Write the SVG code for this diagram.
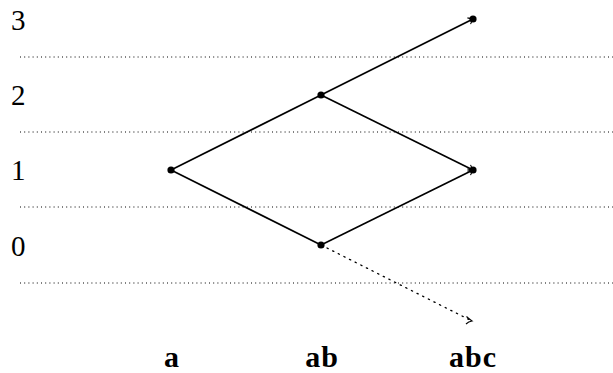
<svg xmlns="http://www.w3.org/2000/svg" width="613" height="373" viewBox="0 0 613 373">
<style>
.grid{stroke:#000;stroke-width:1;stroke-dasharray:1 3.2;fill:none}
.edge{stroke:#000;stroke-width:1.6;fill:none}
.dot{stroke:#000;stroke-width:1.3;stroke-dasharray:1.3 5;stroke-linecap:round;fill:none}
.num{font-family:"Liberation Serif",serif;font-size:29px;fill:#000}
.lbl{font-family:"Liberation Serif",serif;font-size:30px;font-weight:bold;fill:#000;text-anchor:middle;letter-spacing:1px}
.pt{fill:#000}
</style>
<defs>
<marker id="arr" viewBox="-6 -5 8 10" refX="0" refY="0" markerWidth="8" markerHeight="10" markerUnits="userSpaceOnUse" orient="auto">
<path d="M-4.5,-3.5 Q-1.5,-1 0,0 Q-1.5,1 -4.5,3.5" fill="none" stroke="#000" stroke-width="1.1"/>
</marker>
</defs>
<g id="grid">
<line class="grid" x1="20" y1="57" x2="613" y2="57"/>
<line class="grid" x1="20" y1="132" x2="613" y2="132"/>
<line class="grid" x1="20" y1="207" x2="613" y2="207"/>
<line class="grid" x1="20" y1="283" x2="613" y2="283"/>
</g>
<g id="levels">
<text class="num" x="11" y="30">3</text>
<text class="num" x="11" y="105">2</text>
<text class="num" x="11" y="180">1</text>
<text class="num" x="11" y="256">0</text>
</g>
<g id="connectors">
<line class="edge" x1="171" y1="170" x2="321" y2="95"/>
<line class="edge" x1="171" y1="170" x2="321" y2="245"/>
<line class="edge" x1="321" y1="95" x2="473" y2="19" marker-end="url(#arr)"/>
<line class="edge" x1="321" y1="95" x2="473" y2="170" marker-end="url(#arr)"/>
<line class="edge" x1="321" y1="245" x2="473" y2="170" marker-end="url(#arr)"/>
<line class="dot" x1="327" y1="248" x2="470" y2="320"/>
<path d="M466.5,316.5 Q469,319 472,321 Q468.5,321.5 466,324" fill="none" stroke="#000" stroke-width="1.1"/>
</g>
<g id="node-a"><circle class="pt" cx="171" cy="170" r="3.6"/></g>
<g id="node-ab2"><circle class="pt" cx="321" cy="95" r="3.6"/></g>
<g id="node-ab0"><circle class="pt" cx="321" cy="245" r="3.6"/></g>
<g id="node-abc3"><circle class="pt" cx="473" cy="19" r="3.6"/></g>
<g id="node-abc1"><circle class="pt" cx="473" cy="170" r="3.6"/></g>
<g id="labels">
<text class="lbl" x="172" y="367">a</text>
<text class="lbl" x="322" y="367">ab</text>
<text class="lbl" x="473" y="367">abc</text>
</g>
</svg>
